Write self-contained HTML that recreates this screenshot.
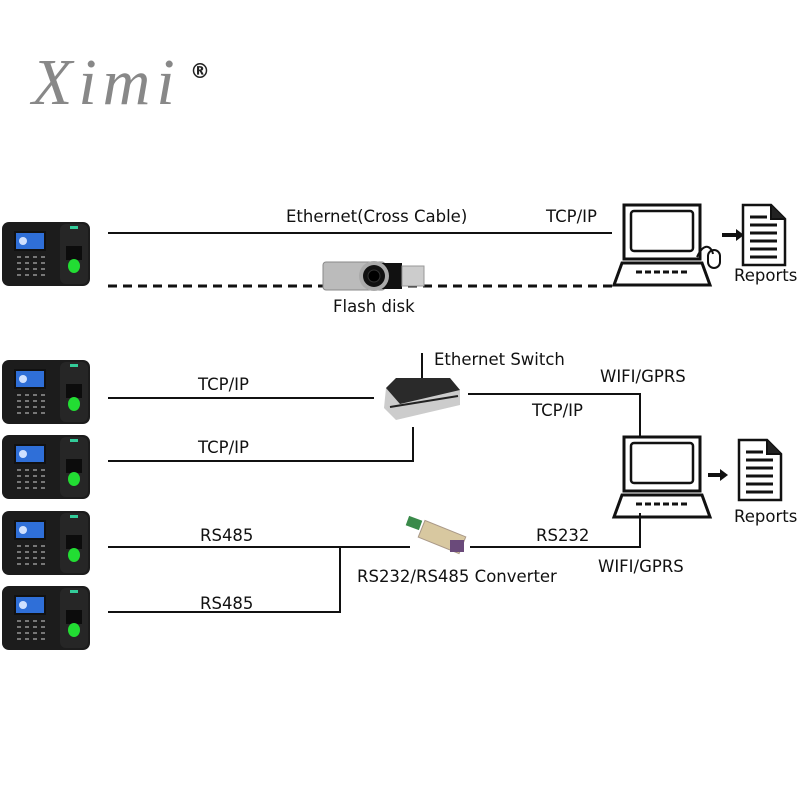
<!DOCTYPE html>
<html><head><meta charset="utf-8"><style>
body{margin:0;background:#fff;width:800px;height:800px;overflow:hidden}
svg text{font-family:"DejaVu Sans","Liberation Sans",sans-serif;font-size:16.5px;fill:#111}
</style></head><body>
<svg width="800" height="800" viewBox="0 0 800 800" xmlns="http://www.w3.org/2000/svg">
<defs>
<g id="dev">
<rect x="0" y="0" width="88" height="64" rx="7" fill="#1c1c1c"/>
<rect x="58" y="2" width="28" height="60" rx="6" fill="#262626"/>
<rect x="12" y="9" width="32" height="20" fill="#111"/>
<rect x="14" y="11" width="28" height="16" fill="#2f6fd8"/>
<circle cx="21" cy="19" r="4" fill="#cfe0ff"/>
<g fill="#777"><rect x="15" y="34" width="4" height="2"/><rect x="23" y="34" width="4" height="2"/><rect x="31" y="34" width="4" height="2"/><rect x="39" y="34" width="4" height="2"/>
<rect x="15" y="40" width="4" height="2"/><rect x="23" y="40" width="4" height="2"/><rect x="31" y="40" width="4" height="2"/><rect x="39" y="40" width="4" height="2"/>
<rect x="15" y="46" width="4" height="2"/><rect x="23" y="46" width="4" height="2"/><rect x="31" y="46" width="4" height="2"/><rect x="39" y="46" width="4" height="2"/>
<rect x="15" y="52" width="4" height="2"/><rect x="23" y="52" width="4" height="2"/><rect x="31" y="52" width="4" height="2"/><rect x="39" y="52" width="4" height="2"/></g>
<rect x="64" y="24" width="16" height="14" fill="#0c0c0c"/>
<ellipse cx="72" cy="44" rx="6" ry="7" fill="#22dd33"/>
<rect x="68" y="4" width="8" height="3" fill="#3c9"/>
</g>
<g id="pc" fill="none" stroke="#111">
<rect x="12" y="0" width="76" height="54" stroke-width="3"/>
<rect x="19" y="6" width="62" height="40" rx="3" stroke-width="2.5"/>
<path d="M10 58 H90 L98 80 H2 Z" stroke-width="3"/>
<path d="M24 67 H78" stroke-width="3" stroke-dasharray="6 3"/>
</g>
<g id="doc" fill="none" stroke="#111">
<path d="M2 2 H30 L44 16 V62 H2 Z" stroke-width="2.5" fill="#fff"/>
<path d="M30 2 V16 H44" stroke-width="2" fill="#222"/>
<g stroke-width="3"><path d="M9 14 H26"/><path d="M9 22 H36"/><path d="M9 30 H36"/><path d="M9 38 H36"/><path d="M9 46 H36"/><path d="M9 54 H36"/></g>
</g>
</defs>

<text x="32" y="104" style="font-family:'Liberation Serif',serif;font-style:italic;font-size:66px;letter-spacing:6px;fill:#888">Ximi</text>
<text x="190" y="78" style="font-size:20px;font-weight:bold;fill:#222">®</text>

<use href="#dev" x="2" y="222"/>
<use href="#dev" x="2" y="360"/>
<use href="#dev" x="2" y="435"/>
<use href="#dev" x="2" y="511"/>
<use href="#dev" x="2" y="586"/>

<g stroke="#111" stroke-width="2" fill="none">
<path d="M108 233 H612"/>
<path d="M108 286 H612" stroke-width="3" stroke-dasharray="9 6"/>
<path d="M108 398 H374"/>
<path d="M108 461 H413 V427"/>
<path d="M468 394 H640 V437"/>
<path d="M108 547 H410"/>
<path d="M340 547 V612 H108"/>
<path d="M470 547 H640 V513"/>
<path d="M422 353 V382"/>
</g>

<rect x="323" y="262" width="62" height="28" rx="3" fill="#bbb" stroke="#888"/>
<rect x="380" y="263" width="22" height="26" fill="#111"/>
<rect x="402" y="266" width="22" height="20" fill="#ccc" stroke="#999"/>
<circle cx="374" cy="276" r="15" fill="#aaa"/>
<circle cx="374" cy="276" r="11" fill="#111"/>
<circle cx="374" cy="276" r="6" fill="#000" stroke="#333"/>

<path d="M386 388 L396 378 H450 L460 390 V405 L396 420 L384 408 Z" fill="#ccc"/>
<path d="M386 388 L396 378 H450 L460 390 L400 404 Z" fill="#2a2a2a"/>
<path d="M390 407 L458 396" stroke="#222" stroke-width="2"/>

<rect x="407" y="518" width="14" height="10" fill="#3a8a4a" transform="rotate(20 414 523)"/>
<rect x="420" y="528" width="44" height="18" fill="#d8c8a0" stroke="#a98" transform="rotate(22 442 537)"/>
<rect x="450" y="540" width="14" height="12" fill="#6a4a7a"/>

<use href="#pc" x="612" y="205"/>
<use href="#pc" x="612" y="437"/>
<g fill="none" stroke="#111" stroke-width="2"><path d="M697 257 C705 240 712 248 713 254"/><rect x="708" y="250" width="12" height="18" rx="6"/></g>
<path d="M722 235 H738" stroke="#111" stroke-width="4"/><path d="M736 229 L744 235 L736 241 Z" fill="#111"/>
<path d="M708 475 H722" stroke="#111" stroke-width="4"/><path d="M720 469 L728 475 L720 481 Z" fill="#111"/>
<use href="#doc" x="741" y="203"/>
<use href="#doc" x="737" y="438"/>

<text x="286" y="222">Ethernet(Cross Cable)</text>
<text x="546" y="222">TCP/IP</text>
<text x="333" y="312">Flash disk</text>
<text x="734" y="281">Reports</text>
<text x="434" y="365">Ethernet Switch</text>
<text x="600" y="382">WIFI/GPRS</text>
<text x="532" y="416">TCP/IP</text>
<text x="198" y="390">TCP/IP</text>
<text x="198" y="453">TCP/IP</text>
<text x="734" y="522">Reports</text>
<text x="200" y="541">RS485</text>
<text x="200" y="609">RS485</text>
<text x="536" y="541">RS232</text>
<text x="357" y="582">RS232/RS485 Converter</text>
<text x="598" y="572">WIFI/GPRS</text>
</svg>
</body></html>
